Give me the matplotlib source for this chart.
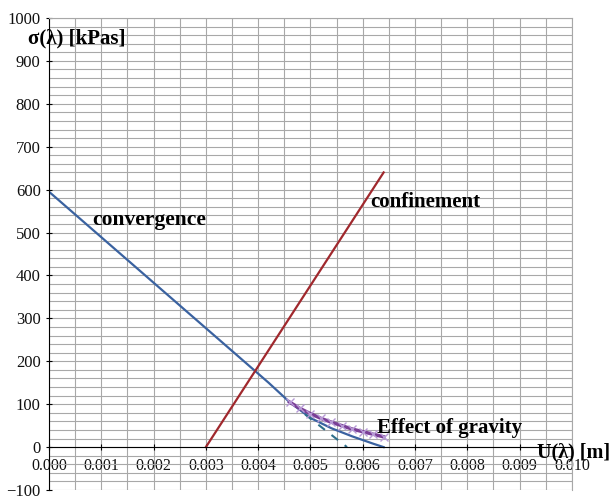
import matplotlib.pyplot as plt
from matplotlib.ticker import MultipleLocator, FormatStrFormatter

# convergence curve
conv_u = [0.0, 0.0042, 0.0046, 0.0050, 0.0054, 0.0058, 0.0062, 0.0064]
conv_s = [595, 150, 105, 68, 44, 25, 8, 0]
# confinement line
conf_u = [0.0030, 0.0064]
conf_s = [0, 640]
# effect of gravity
grav_u = [0.0046, 0.0048, 0.0050, 0.0052, 0.0054, 0.0056, 0.0058, 0.0060, 0.0062, 0.0064]
grav_s = [105, 90, 78, 67, 58, 50, 42, 36, 30, 24]
# dashed branch
dash_u = [0.0049, 0.0053, 0.0057]
dash_s = [76, 38, 0]

plt.rcParams["font.family"] = ["Liberation Serif", "DejaVu Serif"]

fig = plt.figure(figsize=(6.09, 4.98), dpi=100)
ax = fig.add_axes([0.0805, 0.016, 0.8585, 0.948])

ax.set_xlim(0, 0.010)
ax.set_ylim(-100, 1000)
ax.xaxis.set_major_locator(MultipleLocator(0.001))
ax.xaxis.set_minor_locator(MultipleLocator(0.0005))
ax.yaxis.set_major_locator(MultipleLocator(100))
ax.yaxis.set_minor_locator(MultipleLocator(20))
ax.xaxis.set_major_formatter(FormatStrFormatter("%.3f"))
ax.grid(which="both", color="#a8a8a8", lw=0.8)
ax.set_axisbelow(True)

ax.spines["bottom"].set_position(("data", 0))
ax.spines["bottom"].set_color("black")
ax.spines["left"].set_color("black")
for s in ("top", "right"):
    ax.spines[s].set_color("#a8a8a8")
ax.tick_params(which="minor", length=0)
ax.tick_params(axis="both", which="major", length=4,
               direction="inout", width=0.8, labelcolor="#111111")
ax.tick_params(axis="y", labelsize=12, pad=4)
ax.tick_params(axis="x", labelsize=11.5, pad=6)

ax.plot(conv_u, conv_s, color="#3a62a0", lw=1.6)
ax.plot(conf_u, conf_s, color="#a0282d", lw=1.6)
ax.plot(dash_u, dash_s, color="#2f6f8a", lw=1.5, ls=(0, (4, 4)))
ax.plot(grav_u, grav_s, color="#7a3f96", lw=2.5, marker="x",
        markersize=6, markeredgecolor="#b79ad6", markeredgewidth=1.0)

bold = dict(fontweight="bold", color="black")
ax.text(-0.0004, 953, "σ(λ) [kPas]", fontsize=15, ha="left", va="center", **bold)
ax.text(0.00083, 529, "convergence", fontsize=15.5, ha="left", va="center", **bold)
ax.text(0.00614, 571, "confinement", fontsize=15, ha="left", va="center", **bold)
ax.text(0.00627, 44, "Effect of gravity", fontsize=15, ha="left", va="center", **bold)
ax.text(0.00933, -12, "U(λ) [m]", fontsize=14.5, ha="left", va="center", **bold)

fig.savefig("out.png", dpi=100)
